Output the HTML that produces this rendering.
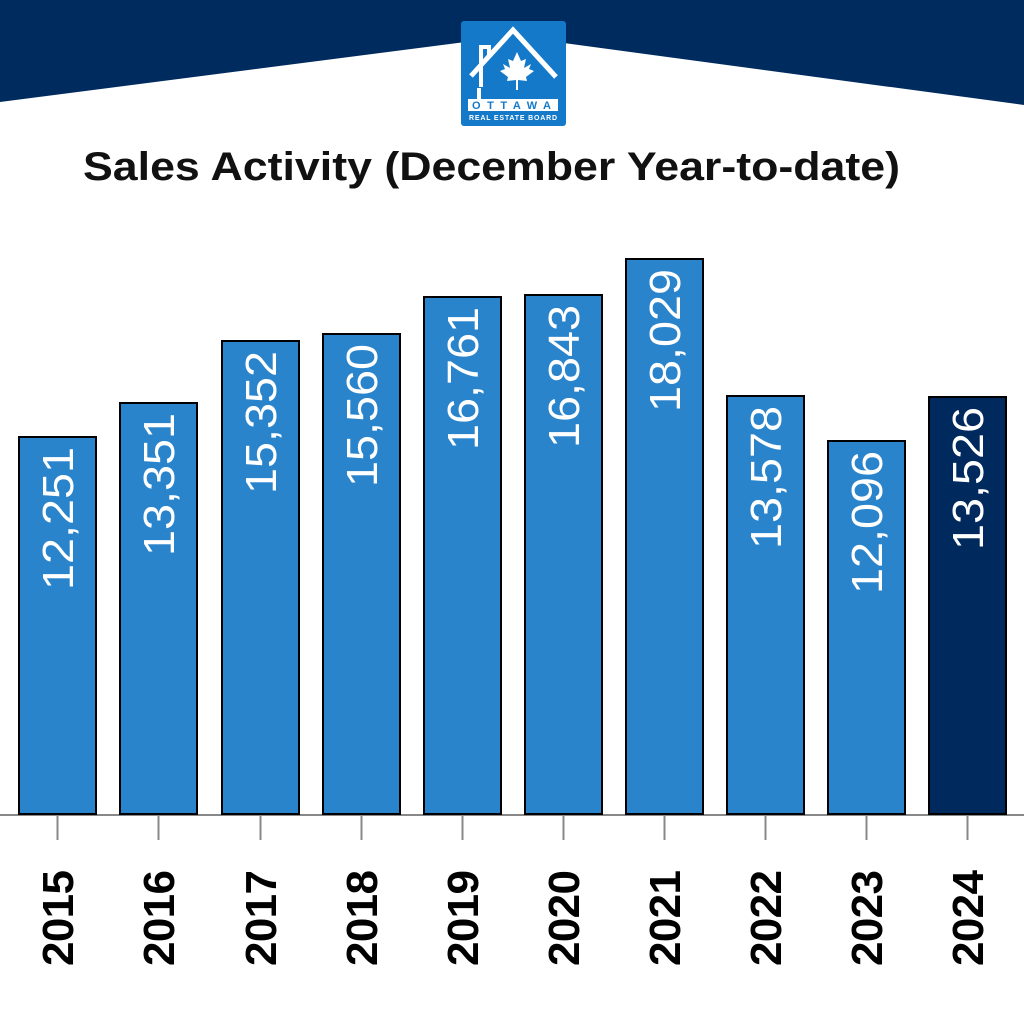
<!DOCTYPE html>
<html><head><meta charset="utf-8"><style>body{margin:0;background:#fff}svg{display:block}</style></head>
<body>
<svg width="1024" height="1024" viewBox="0 0 1024 1024" xmlns="http://www.w3.org/2000/svg" font-family="Liberation Sans, sans-serif">
<rect width="1024" height="1024" fill="#fff"/>
<polygon points="0,0 1024,0 1024,105 512,36 0,102" fill="#002b5f"/>
<rect x="461" y="21" width="105" height="105" rx="3" fill="#1479c9"/>
<polyline points="471,76 513,30 556,77" fill="none" stroke="#fff" stroke-width="5"/>
<polyline points="481,87 481,47 489,47 489,57" fill="none" stroke="#fff" stroke-width="4"/>
<line x1="479" y1="88" x2="479" y2="101" stroke="#fff" stroke-width="4"/>
<path d="M517,52 l4,9 5,-2 -2,9 7,-4 -2,5 5,2 -8,6 1,4 -9,-1 0,10 -2,0 0,-10 -9,1 1,-4 -8,-6 5,-2 -2,-5 7,4 -2,-9 5,2z" fill="#fff"/>
<rect x="468" y="99" width="90" height="12" fill="#fff"/>
<text x="513" y="109" font-size="11" font-weight="bold" fill="#1479c9" text-anchor="middle" textLength="82" letter-spacing="3">OTTAWA</text>
<text x="513" y="120" font-size="7" font-weight="bold" fill="#fff" text-anchor="middle" textLength="88">REAL ESTATE BOARD</text>
<text x="83" y="180" font-size="40" font-weight="bold" fill="#111" textLength="817" lengthAdjust="spacingAndGlyphs">Sales Activity (December Year-to-date)</text>
<line x1="0" y1="815" x2="1024" y2="815" stroke="#888" stroke-width="2"/>
<g stroke="#000" stroke-width="2">
<rect x="19" y="437" width="77" height="377" fill="#2a84cc"/>
<rect x="120" y="403" width="77" height="411" fill="#2a84cc"/>
<rect x="222" y="341" width="77" height="473" fill="#2a84cc"/>
<rect x="323" y="334" width="77" height="480" fill="#2a84cc"/>
<rect x="424" y="297" width="77" height="517" fill="#2a84cc"/>
<rect x="525" y="295" width="77" height="519" fill="#2a84cc"/>
<rect x="626" y="259" width="77" height="555" fill="#2a84cc"/>
<rect x="727" y="396" width="77" height="418" fill="#2a84cc"/>
<rect x="828" y="441" width="77" height="373" fill="#2a84cc"/>
<rect x="929" y="397" width="77" height="417" fill="#00295d"/>
</g>
<g stroke="#888" stroke-width="2">
<line x1="57.5" y1="815" x2="57.5" y2="840"/><line x1="158.5" y1="815" x2="158.5" y2="840"/>
<line x1="260.5" y1="815" x2="260.5" y2="840"/><line x1="361.5" y1="815" x2="361.5" y2="840"/>
<line x1="462.5" y1="815" x2="462.5" y2="840"/><line x1="563.5" y1="815" x2="563.5" y2="840"/>
<line x1="664.5" y1="815" x2="664.5" y2="840"/><line x1="765.5" y1="815" x2="765.5" y2="840"/>
<line x1="866.5" y1="815" x2="866.5" y2="840"/><line x1="967.5" y1="815" x2="967.5" y2="840"/>
</g>
<g fill="#fff" font-size="44" text-anchor="end">
<text transform="translate(73,447) rotate(-90)" textLength="143" lengthAdjust="spacingAndGlyphs">12,251</text>
<text transform="translate(174,413) rotate(-90)" textLength="143" lengthAdjust="spacingAndGlyphs">13,351</text>
<text transform="translate(276,351) rotate(-90)" textLength="143" lengthAdjust="spacingAndGlyphs">15,352</text>
<text transform="translate(377,344) rotate(-90)" textLength="143" lengthAdjust="spacingAndGlyphs">15,560</text>
<text transform="translate(478,307) rotate(-90)" textLength="143" lengthAdjust="spacingAndGlyphs">16,761</text>
<text transform="translate(579,305) rotate(-90)" textLength="143" lengthAdjust="spacingAndGlyphs">16,843</text>
<text transform="translate(680,269) rotate(-90)" textLength="143" lengthAdjust="spacingAndGlyphs">18,029</text>
<text transform="translate(781,406) rotate(-90)" textLength="143" lengthAdjust="spacingAndGlyphs">13,578</text>
<text transform="translate(882,451) rotate(-90)" textLength="143" lengthAdjust="spacingAndGlyphs">12,096</text>
<text transform="translate(983,407) rotate(-90)" textLength="143" lengthAdjust="spacingAndGlyphs">13,526</text>
</g>
<g fill="#000" font-size="44" font-weight="bold" text-anchor="middle">
<text transform="translate(73,918) rotate(-90)" textLength="96">2015</text>
<text transform="translate(174,918) rotate(-90)" textLength="96">2016</text>
<text transform="translate(276,918) rotate(-90)" textLength="96">2017</text>
<text transform="translate(377,918) rotate(-90)" textLength="96">2018</text>
<text transform="translate(478,918) rotate(-90)" textLength="96">2019</text>
<text transform="translate(579,918) rotate(-90)" textLength="96">2020</text>
<text transform="translate(680,918) rotate(-90)" textLength="96">2021</text>
<text transform="translate(781,918) rotate(-90)" textLength="96">2022</text>
<text transform="translate(882,918) rotate(-90)" textLength="96">2023</text>
<text transform="translate(983,918) rotate(-90)" textLength="96">2024</text>
</g>
</svg>
</body></html>
